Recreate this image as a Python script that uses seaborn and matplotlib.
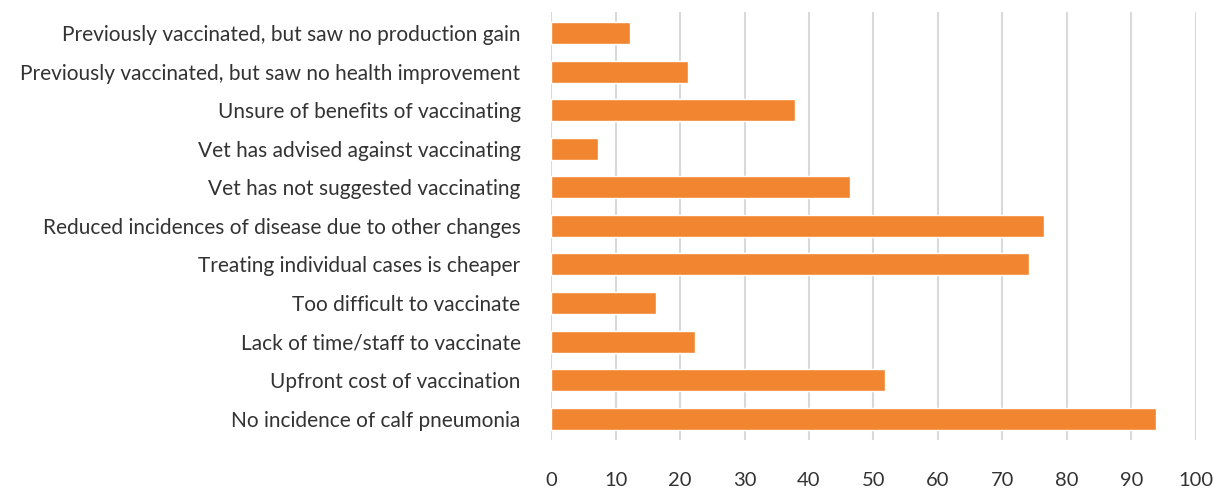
import matplotlib
matplotlib.use("Agg")
import matplotlib.pyplot as plt
import seaborn as sns
import pandas as pd

reasons = [
    "Previously vaccinated, but saw no production gain",
    "Previously vaccinated, but saw no health improvement",
    "Unsure of benefits of vaccinating",
    "Vet has advised against vaccinating",
    "Vet has not suggested vaccinating",
    "Reduced incidences of disease due to other changes",
    "Treating individual cases is cheaper",
    "Too difficult to vaccinate",
    "Lack of time/staff to vaccinate",
    "Upfront cost of vaccination",
    "No incidence of calf pneumonia",
]
values = [12.2, 21.3, 37.8, 7.2, 46.4, 76.5, 74.1, 16.2, 22.3, 51.8, 93.9]
x_ticks = list(range(0, 101, 10))

df = pd.DataFrame({"reason": reasons, "value": values})

sns.set_style("white")
plt.rcParams["font.family"] = ["Lato", "DejaVu Sans"]

fig = plt.figure(figsize=(12.14, 4.91), dpi=100)
ax = fig.add_axes([0.454, 0.104, 0.531, 0.872])

sns.barplot(data=df, x="value", y="reason", color="#F28530", saturation=1,
            width=0.57, ax=ax, zorder=3)

ax.set_xlim(0, 100)
ax.set_xticks(x_ticks)
ax.set_ylim(len(reasons) - 0.45, -0.55)
ax.xaxis.grid(True, color="#d9d9d9", linewidth=1.5, zorder=0)
ax.set_axisbelow(True)
for s in ax.spines.values():
    s.set_visible(False)
ax.tick_params(axis="x", length=0, pad=23, labelsize=14.5, labelcolor="#333333")
ax.tick_params(axis="y", length=0, pad=22, labelsize=15, labelcolor="#333333")
ax.set_xlabel("")
ax.set_ylabel("")

fig.savefig("out.png", dpi=100)
